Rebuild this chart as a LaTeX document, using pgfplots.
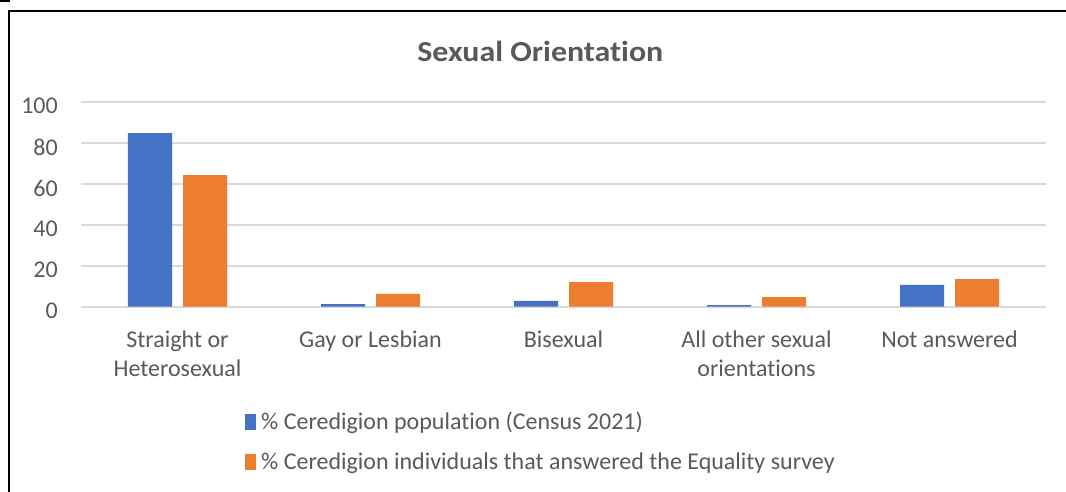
\documentclass[border=0pt]{standalone}
\usepackage{pgfplots}
\pgfplotsset{compat=1.18}
\usepackage{graphicx}
\usepackage{fontspec}
\setmainfont{Carlito}[Ligatures={NoCommon}]
\definecolor{cblue}{HTML}{4472C4}
\definecolor{corange}{HTML}{ED7D31}
\definecolor{ctext}{HTML}{595959}
\definecolor{cgrid}{HTML}{D9D9D9}
\pgfplotsset{
  /pgfplots/ybar legend/.style={
    /pgfplots/legend image code/.code={\fill[##1] (0pt,0pt) rectangle (11pt,15.5pt);}
  }
}
\begin{document}
\begin{tikzpicture}[x=1pt,y=1pt]
\useasboundingbox (0,0) rectangle (1066,492);
\begin{axis}[
  at={(81pt,185.3pt)}, anchor=south west,
  scale only axis, width=965pt, height=205pt,
  xmin=-0.5, xmax=4.5, ymin=0, ymax=100,
  xtick={0,1,2,3,4},
  xticklabels={{Straight or\\Heterosexual},{Gay or Lesbian},{Bisexual},{All other sexual\\orientations},{Not answered}},
  ytick={0,20,40,60,80,100},
  ymajorgrids, grid style={cgrid, line width=1.8pt},
  axis line style={draw=none},
  major tick length=0pt,
  tick label style={font=\fontsize{24}{28.5}\selectfont, text=ctext},
  xticklabel style={align=center, inner sep=0pt, anchor=north, yshift=-24pt},
  yticklabel style={inner sep=0pt, anchor=east, xshift=-23pt, yshift=-4.5pt},
  /pgf/number format/assume math mode=true,
  title={\scalebox{1.1}[1]{Sexual Orientation}},
  title style={at={(0.476,1.168)}, anchor=base, font=\fontsize{29}{34}\selectfont\bfseries, text=ctext, inner sep=0pt},
  legend style={at={(0.170,-0.5137)}, anchor=north west, draw=none, fill=none, inner sep=0pt, row sep=22pt,
    font=\fontsize{24}{28.3}\selectfont, text=ctext, nodes={inner sep=0pt},
    cells={anchor=base west},
    /tikz/every odd column/.style={column sep=5pt}},
  ybar, bar width=44pt,
]
\addplot[fill=cblue, draw=none, bar shift=-27.5pt] coordinates {(0,84.7) (1,1.3) (2,2.8) (3,0.8) (4,10.6)};
\addplot[fill=corange, draw=none, bar shift=27.5pt] coordinates {(0,64.2) (1,6.2) (2,12.0) (3,4.7) (4,13.5)};
\legend{\% Ceredigion population (Census 2021), \% Ceredigion individuals that answered the Equality survey}
\end{axis}
\draw[line width=2pt] (9,0) -- (9,481) -- (1066,481);
\fill[black] (0,489.5) rectangle (10,492);
\end{tikzpicture}
\end{document}
